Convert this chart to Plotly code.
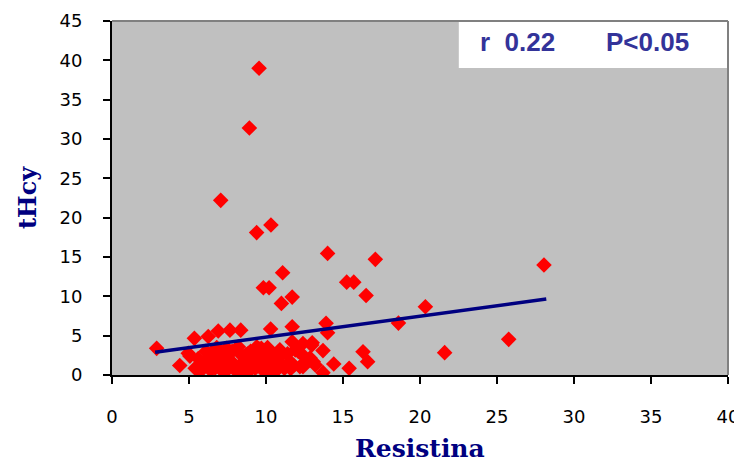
import plotly.graph_objects as go

# Scatter data: Resistina (x) vs tHcy (y)
resistina = [
    9.55, 8.92, 7.06, 9.39, 10.32, 14.0, 17.1, 11.08, 9.83, 10.2,
    15.24, 15.7, 16.5, 11.0, 11.7, 28.05, 20.35, 21.6, 25.76, 18.6,
    2.9, 4.4, 5.35, 6.25, 6.9, 7.66, 8.36, 10.3, 11.7, 13.9, 14.0,
    11.7, 12.4, 13.0, 13.7, 14.4, 15.4, 16.3, 16.6, 13.7,
    4.95, 5.4, 6.0, 6.6, 7.0, 7.66, 8.3, 8.1, 8.75, 7.45, 5.7, 5.06, 5.6,
    8.85, 9.7, 9.8, 10.8, 9.3, 10.26, 11.2, 12.4, 11.9, 12.86,
    10.6, 12.1, 12.4, 12.86, 11.56, 11.1, 12.2, 13.2, 10.7, 10.26, 12.97, 13.07,
    6.3, 6.5, 6.7, 6.9, 7.2, 7.3, 7.5, 7.8, 8.0, 8.4, 8.5, 8.7, 9.0, 9.1, 9.5, 9.6, 10.0, 10.4, 10.6, 11.6,
    6.1, 6.4, 6.8, 7.1, 7.4, 7.9, 8.2, 8.6, 9.2, 9.4, 9.9, 10.1, 10.5, 10.9, 11.4, 5.8, 6.6, 8.9, 9.7, 11.8,
]
thcy = [
    39.0, 31.4, 22.2, 18.1, 19.06, 15.46, 14.7, 13.0, 11.1, 11.1,
    11.8, 11.8, 10.1, 9.1, 9.9, 13.98, 8.68, 2.84, 4.53, 6.6,
    3.39, 1.2, 4.66, 4.9, 5.6, 5.7, 5.7, 5.85, 6.14, 6.57, 5.38,
    4.23, 4.0, 4.1, 3.1, 1.4, 0.85, 2.96, 1.7, 0.3,
    2.75, 0.85, 1.7, 2.5, 0.85, 1.9, 2.75, 0.42, 1.27, 3.4, 0.4, 2.4, 2.1,
    2.75, 3.4, 1.9, 2.1, 0.85, 1.05, 0.85, 1.05, 3.2, 1.9,
    2.5, 3.0, 2.5, 2.15, 1.7, 1.05, 1.05, 1.27, 0.64, 2.8, 3.8, 1.7,
    1.5, 2.8, 0.9, 2.0, 1.2, 0.3, 2.5, 3.0, 0.8, 1.4, 0.2, 2.6, 3.0, 1.9, 2.4, 3.3, 2.0, 2.8, 1.6, 0.8,
    3.0, 0.6, 3.5, 2.3, 0.6, 1.2, 3.6, 1.8, 2.6, 3.6, 0.4, 3.5, 0.3, 3.2, 2.7, 1.2, 1.8, 0.5, 1.5, 1.2,
]

# Linear trend line end points
trend_x = [2.8, 28.2]
trend_y = [2.9, 9.66]

x_ticks = [0, 5, 10, 15, 20, 25, 30, 35, 40]
y_ticks = [0, 5, 10, 15, 20, 25, 30, 35, 40, 45]

x_title = "Resistina"
y_title = "tHcy"
stat_r = "r  0.22"
stat_p = "P<0.05"

# page body has an 8px default margin: figure is laid out in its own coords
L, T, PW, PH = 104, 13, 616, 354

fig = go.Figure()
fig.add_trace(go.Scatter(
    x=resistina, y=thcy, mode="markers",
    marker=dict(symbol="diamond", size=12, color="#FF0000", line=dict(width=0)),
    showlegend=False, hoverinfo="skip",
))
fig.add_trace(go.Scatter(
    x=trend_x, y=trend_y, mode="lines",
    line=dict(color="#000080", width=3.5),
    showlegend=False, hoverinfo="skip",
))

axis_font = dict(family="DejaVu Sans", size=18, color="black")
fig.update_layout(
    width=734, height=454,
    margin=dict(l=L, r=734 - L - PW, t=T, b=454 - T - PH, autoexpand=False),
    paper_bgcolor="white", plot_bgcolor="#C0C0C0",
    xaxis=dict(range=[0, 40], tickvals=x_ticks, ticks="outside", ticklen=7,
               tickwidth=2, tickcolor="black", showgrid=False, zeroline=False,
               showline=True, linecolor="black", linewidth=2, automargin=False,
               tickfont=axis_font, ticklabelstandoff=17),
    yaxis=dict(range=[0, 45], tickvals=y_ticks, ticks="outside", ticklen=7,
               tickwidth=2, tickcolor="black", showgrid=False, zeroline=False,
               showline=True, linecolor="black", linewidth=2, automargin=False,
               tickfont=axis_font, ticklabelstandoff=17),
    shapes=[
        dict(type="rect", xref="paper", yref="paper", x0=0.563, x1=1.0, y0=0.867, y1=1.0,
             fillcolor="white", line=dict(width=0), layer="above"),
        dict(type="line", xref="paper", yref="paper", x0=0, x1=1, y0=1, y1=1,
             line=dict(color="#808080", width=2), layer="above"),
        dict(type="line", xref="paper", yref="paper", x0=1, x1=1, y0=0, y1=1,
             line=dict(color="#808080", width=2), layer="above"),
    ],
    annotations=[
        dict(text=stat_r, xref="paper", yref="paper", x=(470 - L) / PW, y=(T + PH - 33.5) / PH,
             xanchor="left", yanchor="middle", showarrow=False,
             font=dict(family="Liberation Sans", size=26, color="#333399", weight="bold")),
        dict(text=stat_p, xref="paper", yref="paper", x=(596 - L) / PW, y=(T + PH - 33.5) / PH,
             xanchor="left", yanchor="middle", showarrow=False,
             font=dict(family="Liberation Sans", size=26, color="#333399", weight="bold")),
        dict(text=x_title, xref="paper", yref="paper", x=0.5, y=(T + PH - 440) / PH,
             xanchor="center", yanchor="middle", showarrow=False,
             font=dict(family="DejaVu Serif", size=25, color="#000080", weight="bold")),
        dict(text=y_title, xref="paper", yref="paper", x=(19 - L) / PW, y=0.5,
             xanchor="center", yanchor="middle", showarrow=False, textangle=-90,
             font=dict(family="DejaVu Serif", size=24, color="#000080", weight="bold")),
    ],
)

fig.write_html("out.html")
